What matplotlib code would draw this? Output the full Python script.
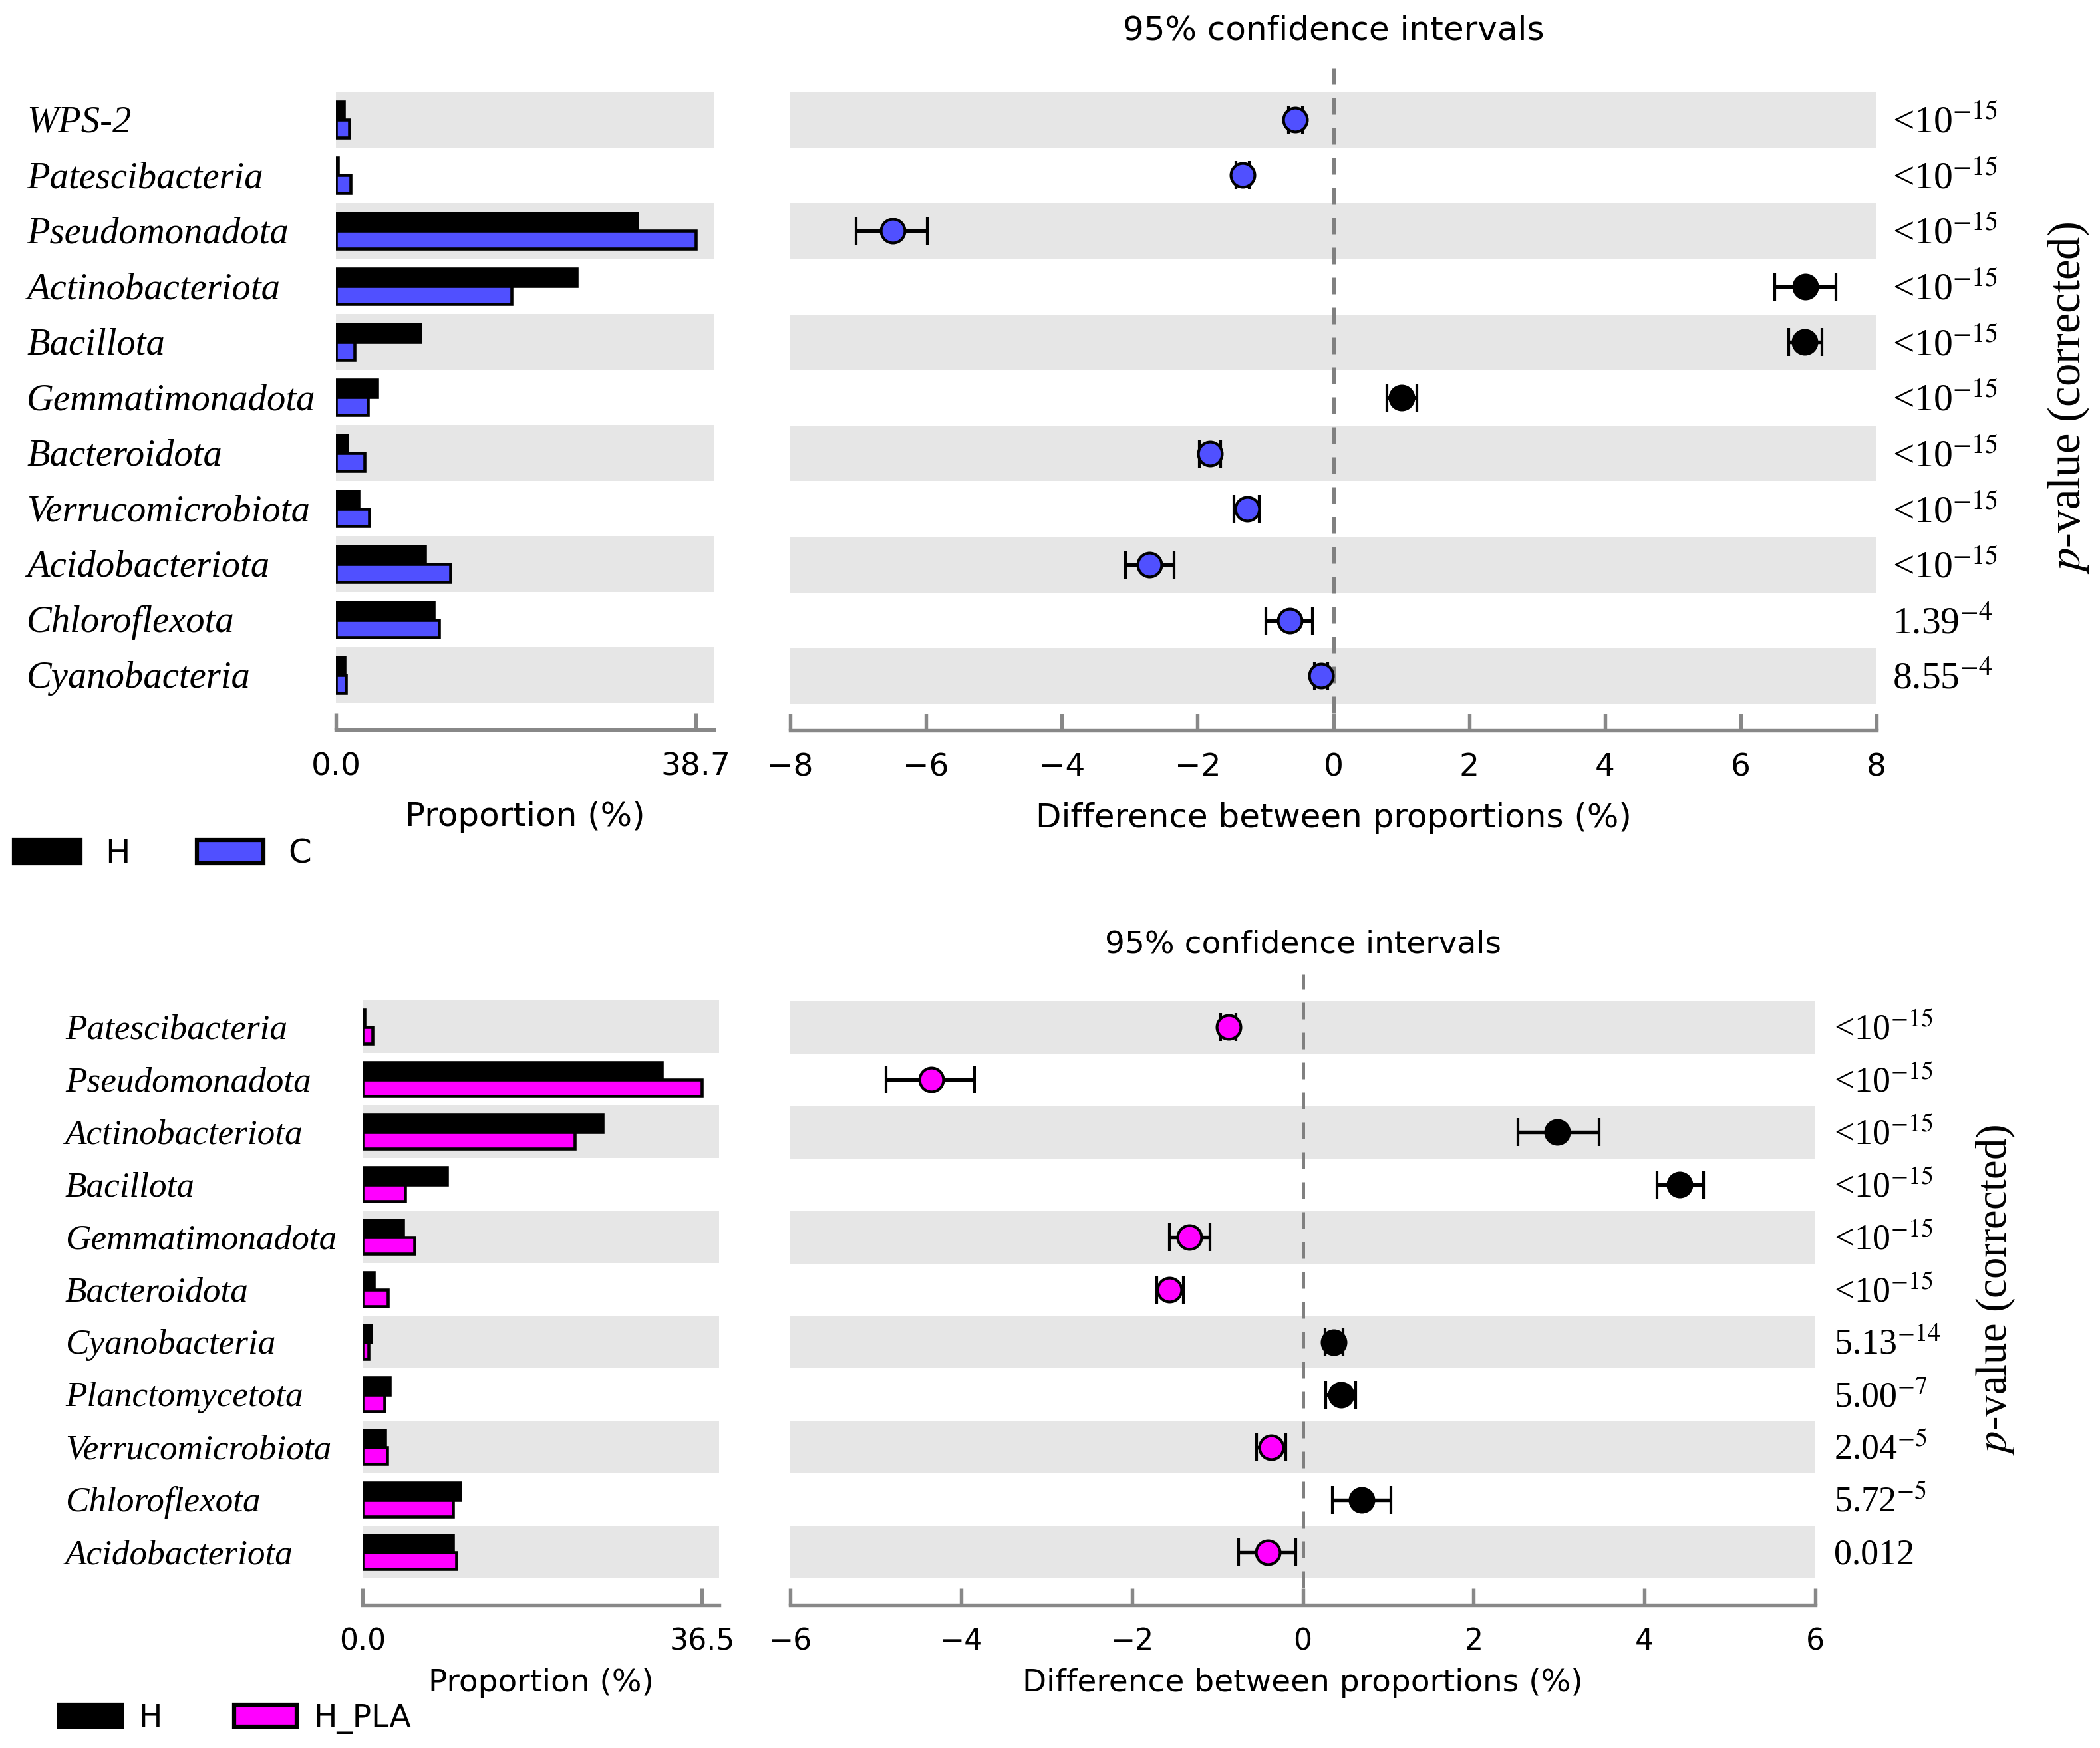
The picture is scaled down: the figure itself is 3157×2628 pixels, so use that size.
import matplotlib
matplotlib.use('Agg')
import matplotlib.pyplot as plt
from matplotlib.patches import Patch
from matplotlib.transforms import blended_transform_factory, offset_copy
import numpy as np

W, H = 3157, 2628
DPI = 300
plt.rcParams['mathtext.fontset'] = 'stix'
SERIF = 'Liberation Serif'
BAND = '#e6e6e6'
SPINE = '#888888'

# ---- top comparison: H vs C ----
top_taxa = ['WPS-2', 'Patescibacteria', 'Pseudomonadota', 'Actinobacteriota', 'Bacillota',
            'Gemmatimonadota', 'Bacteroidota', 'Verrucomicrobiota', 'Acidobacteriota',
            'Chloroflexota', 'Cyanobacteria']
top_h = [0.85, 0.2, 32.4, 25.9, 9.1, 4.4, 1.25, 2.4, 9.6, 10.5, 0.9]
top_c = [1.4, 1.6, 38.7, 18.9, 2.0, 3.4, 3.1, 3.6, 12.3, 11.1, 1.1]
top_diff = [-0.56, -1.34, -6.49, 6.95, 6.94, 1.0, -1.82, -1.27, -2.71, -0.64, -0.18]
top_lo = [-0.66, -1.44, -7.03, 6.50, 6.71, 0.79, -1.97, -1.46, -3.06, -0.99, -0.28]
top_hi = [-0.46, -1.24, -5.98, 7.40, 7.20, 1.23, -1.66, -1.09, -2.35, -0.31, -0.08]
top_p = ['<10$^{-15}$', '<10$^{-15}$', '<10$^{-15}$', '<10$^{-15}$', '<10$^{-15}$',
         '<10$^{-15}$', '<10$^{-15}$', '<10$^{-15}$', '<10$^{-15}$', '1.39$^{-4}$', '8.55$^{-4}$']

# ---- bottom comparison: H vs H_PLA ----
bot_taxa = ['Patescibacteria', 'Pseudomonadota', 'Actinobacteriota', 'Bacillota',
            'Gemmatimonadota', 'Bacteroidota', 'Cyanobacteria', 'Planctomycetota',
            'Verrucomicrobiota', 'Chloroflexota', 'Acidobacteriota']
bot_h = [0.25, 32.2, 25.8, 9.1, 4.35, 1.25, 0.95, 2.9, 2.45, 10.5, 9.7]
bot_pla = [1.05, 36.5, 22.8, 4.6, 5.6, 2.75, 0.65, 2.35, 2.65, 9.7, 10.05]
bot_diff = [-0.87, -4.35, 2.98, 4.41, -1.33, -1.56, 0.36, 0.45, -0.37, 0.69, -0.41]
bot_lo = [-0.96, -4.88, 2.52, 4.15, -1.56, -1.71, 0.26, 0.27, -0.54, 0.35, -0.75]
bot_hi = [-0.78, -3.84, 3.47, 4.69, -1.09, -1.40, 0.47, 0.62, -0.20, 1.03, -0.08]
bot_p = ['<10$^{-15}$', '<10$^{-15}$', '<10$^{-15}$', '<10$^{-15}$', '<10$^{-15}$',
         '<10$^{-15}$', '5.13$^{-14}$', '5.00$^{-7}$', '2.04$^{-5}$', '5.72$^{-5}$', '0.012']

fig = plt.figure(figsize=(W / DPI, H / DPI), dpi=DPI)


def px_box(l, t, r, b):
    return [l / W, 1 - b / H, (r - l) / W, (b - t) / H]


def style_axis(ax, n, s):
    ax.set_ylim(n - 0.5, -0.5)
    for i in range(0, n, 2):
        ax.axhspan(i - 0.5, i + 0.5, color=BAND, lw=0, zorder=0)
    for side in ('top', 'right', 'left'):
        ax.spines[side].set_visible(False)
    ax.spines['bottom'].set_position(('outward', 9.6))
    ax.spines['bottom'].set_color(SPINE)
    ax.spines['bottom'].set_linewidth(1.3)
    ax.tick_params(axis='x', direction='in', length=6, width=1.3, color=SPINE,
                   pad=8, labelsize=11.3 * s)
    ax.set_yticks([])


def draw_panel(bar_px, ci_px, taxa, v1, v2, diff, lo, hi, pvals, grp2, col2, ci_max,
               label_x, pval_x, ylab_x, title_y, leg_x, leg_y, leg_pad, leg_col,
               xlab_pad, s):
    n = len(taxa)
    y = np.arange(n)
    axb = fig.add_axes(px_box(*bar_px))
    axc = fig.add_axes(px_box(*ci_px))
    style_axis(axb, n, s)
    style_axis(axc, n, s)

    # proportions
    vmax = max(max(v1), max(v2))
    axb.barh(y - 0.16, v1, height=0.32, color='black', edgecolor='black', lw=1.1)
    axb.barh(y + 0.16, v2, height=0.32, color=col2, edgecolor='black', lw=1.1)
    axb.set_xlim(0, vmax * 1.05)
    axb.set_xticks([0, vmax])
    axb.set_xticklabels(['0.0', f'{vmax:.1f}'])
    axb.set_xlabel('Proportion (%)', fontsize=12 * s, labelpad=xlab_pad)

    lab_fs = 13.6 * s
    lab_tr = offset_copy(blended_transform_factory(fig.transFigure, axb.transData),
                         fig=fig, y=-0.33 * lab_fs, units='points')
    for i, name in enumerate(taxa):
        axb.text(label_x / W, i, name, transform=lab_tr, ha='left', va='baseline',
                 fontfamily=SERIF, style='italic', fontsize=lab_fs)

    # differences with 95% CI
    diff = np.array(diff)
    lo = np.array(lo)
    hi = np.array(hi)
    for mask, col in ((diff > 0, 'black'), (diff <= 0, col2)):
        axc.errorbar(diff[mask], y[mask],
                     xerr=[diff[mask] - lo[mask], hi[mask] - diff[mask]],
                     fmt='o', ms=8.6, mfc=col, mec='black', mew=1.0,
                     ecolor='black', elinewidth=1.3, capsize=5, capthick=1.3, zorder=3)
    axc.set_xlim(-ci_max, ci_max)
    axc.set_xticks(np.arange(-ci_max, ci_max + 1, 2))
    axc.set_xlabel('Difference between proportions (%)', fontsize=12 * s,
                   labelpad=xlab_pad)

    top_px, bot_px = ci_px[1], ci_px[3]
    hgt = bot_px - top_px
    zline = blended_transform_factory(axc.transData, axc.transAxes)
    axc.plot([0, 0], [-14 / hgt, 1 + 40 / hgt], transform=zline, color='#808080',
             lw=1.2, ls=(0, (5, 4)), clip_on=False, zorder=1)
    axc.text(0.5, 1 + (top_px - title_y) / hgt, '95% confidence intervals',
             transform=axc.transAxes, ha='center', va='center', fontsize=12 * s)

    p_fs = 13.8 * s
    p_tr = offset_copy(blended_transform_factory(fig.transFigure, axc.transData),
                       fig=fig, y=-0.33 * p_fs, units='points')
    for i, p in enumerate(pvals):
        axc.text(pval_x / W, i, p, transform=p_tr, ha='left', va='baseline',
                 fontfamily=SERIF, fontsize=p_fs)
    fig.text(ylab_x / W, 1 - (top_px + bot_px) / 2 / H, r'$p$-value (corrected)',
             rotation=90, ha='center', va='center', fontfamily=SERIF, fontsize=16.5 * s)

    fig.legend(handles=[Patch(facecolor='black', edgecolor='black', lw=1.5, label='H'),
                        Patch(facecolor=col2, edgecolor='black', lw=1.5, label=grp2)],
               loc='center left', bbox_to_anchor=(leg_x / W, 1 - leg_y / H), ncol=2,
               frameon=False, borderpad=0, handlelength=2.0, handleheight=0.7,
               handletextpad=leg_pad, columnspacing=leg_col, fontsize=12 * s)


draw_panel((505, 138, 1073, 1057), (1188, 138, 2821, 1058), top_taxa, top_h, top_c,
           top_diff, top_lo, top_hi, top_p, 'C', '#5050ff', 8,
           40, 2845, 3110, 46, -4, 1284, 0.75, 2.0, 7, 1.0)
draw_panel((545, 1504, 1081, 2373), (1188, 1505, 2729, 2373), bot_taxa, bot_h, bot_pla,
           bot_diff, bot_lo, bot_hi, bot_p, 'H_PLA', '#ff00ff', 6,
           98, 2757, 3000, 1420, 65, 2584, 0.55, 2.3, 4.5, 0.94)

fig.savefig('out.png', dpi=DPI)
